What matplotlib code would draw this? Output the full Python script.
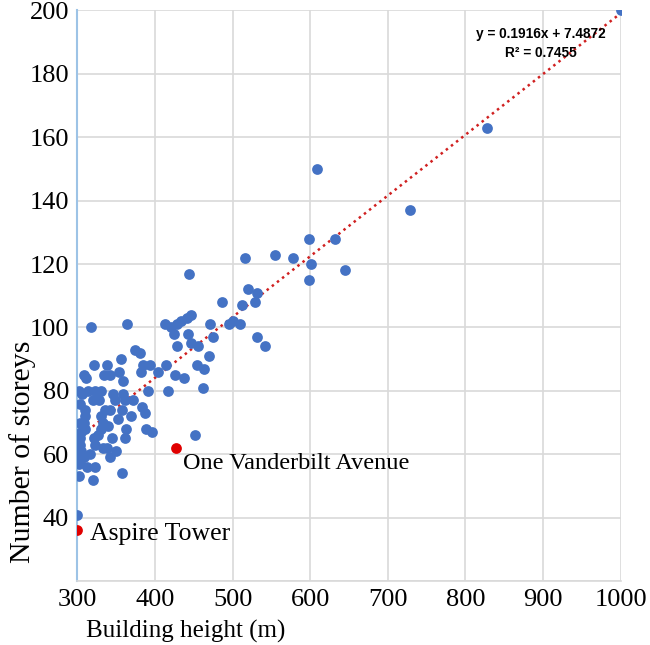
import matplotlib.pyplot as plt
import numpy as np

# building height (m) and number of storeys
height = [1000, 828, 728, 609, 632, 645, 598, 601, 599, 578, 555, 516, 520, 532, 529,
          512, 486, 531, 542, 471, 495, 501, 510, 475, 470, 454, 463, 462, 444, 447,
          441, 434, 428, 421, 413, 424, 443, 429, 447, 455, 426, 437, 417, 452,
          364, 318, 374, 381, 356, 322, 338, 384, 394, 414, 382, 354, 404, 308, 311,
          334, 342, 359, 302, 314, 323, 331, 320, 328, 346, 359, 348, 372, 391, 303,
          310, 336, 383, 361, 310, 331, 342, 357, 387, 369, 308, 333, 310, 331, 340,
          389, 396, 363, 305, 303, 321, 344, 361, 303, 323, 333, 338, 350, 301, 308,
          342, 312, 323, 302, 320, 357, 300, 303, 305, 304, 306, 302, 316, 326, 352]
storeys = [200, 163, 137, 150, 128, 118, 128, 120, 115, 122, 123, 122, 112, 111, 108,
           107, 108, 97, 94, 101, 101, 102, 101, 97, 91, 88, 87, 81, 117, 104,
           103, 102, 101, 100, 101, 98, 98, 94, 95, 94, 85, 84, 80, 66,
           101, 100, 93, 92, 90, 88, 88, 88, 88, 88, 86, 86, 86, 85, 84,
           85, 85, 83, 80, 80, 80, 80, 77, 77, 79, 79, 77, 77, 80, 76,
           74, 74, 75, 77, 72, 72, 74, 74, 73, 72, 70, 70, 68, 68, 69,
           68, 67, 68, 67, 65, 65, 65, 65, 63, 63, 62, 62, 61, 60, 59,
           59, 56, 56, 53, 52, 54, 41, 58, 61, 70, 79, 57, 60, 66, 71]

# highlighted buildings
special_names = ['One Vanderbilt Avenue', 'Aspire Tower']
special_height = [427, 300]
special_storeys = [62, 36]

slope, intercept = 0.1916, 7.4872

plt.rcParams['font.family'] = ['Liberation Serif', 'DejaVu Serif']

fig = plt.figure(figsize=(6.5, 6.45), dpi=100)
ax = fig.add_axes([0.119, 0.099, 0.836, 0.885])

ax.scatter(height, storeys, s=60, c='#4472C4', zorder=3, linewidths=0)
ax.scatter(special_height, special_storeys, s=60, c='#E00000', zorder=4, linewidths=0)

xs = np.array([300, 1000])
ax.plot(xs, slope * xs + intercept, color='#D02020', linestyle=(0, (1, 1.6)),
        linewidth=1.8, zorder=2)

ax.text(436, 57, special_names[0], fontsize=17.5, va='center', ha='left')
ax.text(316, 35, special_names[1], fontsize=18.5, va='center', ha='left')

ax.text(897, 192.4, 'y = 0.1916x + 7.4872', fontsize=9.8, fontweight='bold',
        ha='center', va='center', family=['Liberation Sans', 'DejaVu Sans'])
ax.text(897, 186.6, 'R² = 0.7455', fontsize=9.8, fontweight='bold',
        ha='center', va='center', family=['Liberation Sans', 'DejaVu Sans'])

ax.set_xlim(300, 1000)
ax.set_ylim(20, 200)
ax.set_xticks(range(300, 1001, 100))
ax.set_yticks(range(20, 201, 20))
ax.set_yticklabels([''] + [str(v) for v in range(40, 201, 20)])
ax.tick_params(length=0, labelsize=19, pad=6)
ax.grid(True, color='#d9d9d9', linewidth=1.2, zorder=0)
ax.set_axisbelow(True)

for side in ['top', 'right']:
    ax.spines[side].set_visible(False)
ax.spines['left'].set_color('#9DC3E6')
ax.spines['left'].set_linewidth(1.5)
ax.spines['bottom'].set_color('#d9d9d9')
ax.spines['bottom'].set_linewidth(1.2)

ax.set_xlabel('Building height (m)', fontsize=18, va='center')
ax.set_ylabel('Number of storeys', fontsize=21.5, va='center')
ax.xaxis.set_label_coords(0.2, -0.088)
ax.yaxis.set_label_coords(-0.1, 0.226)

fig.savefig('out.png', dpi=100)
